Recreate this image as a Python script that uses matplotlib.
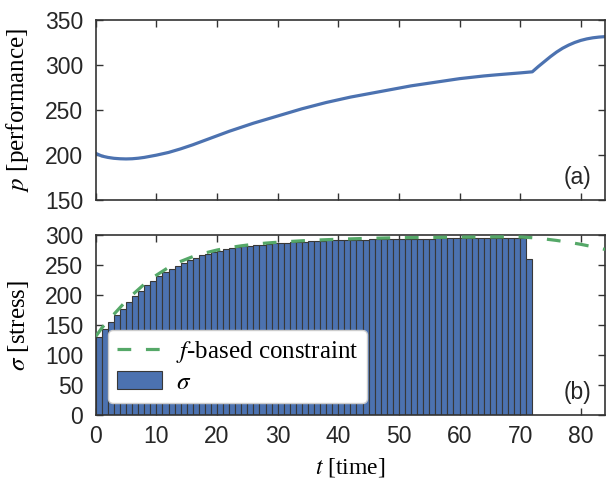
import matplotlib
matplotlib.use('Agg')
import matplotlib.pyplot as plt
import numpy as np

# --- data ---
# (a) performance curve
t_perf = [0, 1, 2, 3, 4, 5, 6, 7, 8, 10, 12, 14, 16, 18, 20, 22, 24, 26, 28, 30,
          32, 34, 36, 38, 40, 42, 44, 46, 48, 50, 52, 54, 56, 58, 60, 62, 64, 66,
          68, 70, 72, 73, 74, 75, 76, 77, 78, 79, 80, 81, 82, 83, 84]
perf = [202, 199, 197.5, 196.5, 196, 195.8, 196, 196.6, 197.5, 200, 203, 207,
        211.5, 216.5, 221.5, 226.5, 231, 235.5, 239.5, 243.5, 247.5, 251.5, 255,
        258.5, 261.5, 264.5, 267, 269.5, 272, 274.5, 277, 279, 281, 283, 285,
        286.5, 288, 289.2, 290.3, 291.4, 292.6, 298.5, 304, 309.5, 314.5, 318.8,
        322.3, 325.2, 327.5, 329.2, 330.4, 331.2, 331.7]

# (b) stress per time step (bars of width 1 starting at t = 0..71)
stress = [130, 143, 155, 166, 177, 188, 198, 207, 216, 224, 231, 238, 243, 249,
          254, 259, 262, 266, 269, 272, 274, 276, 278, 280, 281, 282, 283, 284,
          285, 286, 287, 287.5, 288, 288.5, 289, 289.5, 290, 290.5, 291, 291,
          291.5, 292, 292, 292.5, 292.5, 293, 293, 293, 293.5, 293.5, 293.5, 294,
          294, 294, 294, 294, 294.5, 294.5, 294.5, 294.5, 294.5, 294.5, 295, 295,
          295, 295, 295, 295, 295, 295, 295, 260]

# f-based constraint
t_con = [0, 1, 2, 3, 4, 5, 6, 7, 8, 9, 10, 12, 14, 16, 18, 20, 22, 24, 26, 28,
         30, 35, 40, 45, 50, 55, 60, 65, 68, 70, 72, 74, 76, 78, 80, 82, 84]
con = [131, 145, 157, 168, 179, 190, 200, 209, 218, 226, 233, 246, 256, 264, 270,
       275, 279, 282, 284.5, 286.5, 288, 291, 293, 294.5, 295.5, 296, 296.5,
       296.8, 297, 296.8, 295.5, 293.5, 291, 288, 284.5, 280.5, 276]

xticks = [0, 10, 20, 30, 40, 50, 60, 70, 80]

blue = '#4C72B0'
green = '#55A868'
dark = '#333333'

plt.rcParams['mathtext.fontset'] = 'stix'
plt.rcParams['font.family'] = 'Liberation Sans'

fig = plt.figure(figsize=(6.06, 4.87), dpi=100)
ax1 = fig.add_axes([0.158, 0.589, 0.8404, 0.3696])
ax2 = fig.add_axes([0.158, 0.1478, 0.8404, 0.3696])

serif = {'family': 'Liberation Serif', 'size': 18}

for ax in (ax1, ax2):
    ax.set_xlim(0, 84)
    ax.set_xticks(xticks)
    ax.tick_params(direction='in', top=True, right=True, length=5, width=1,
                   color=dark, labelsize=16.5, labelcolor='#262626', pad=9)
    ax.tick_params(axis='x', pad=7)
    for s in ax.spines.values():
        s.set_color(dark)
        s.set_linewidth(1.2)

# top panel
ax1.plot(t_perf, perf, color=blue, lw=2.3, solid_capstyle='round')
ax1.set_ylim(150, 350)
ax1.set_yticks([150, 200, 250, 300, 350])
ax1.tick_params(axis='x', labelbottom=False)
ax1.set_ylabel(r'$p$ [performance]', fontdict=serif)
ax1.yaxis.set_label_coords(-0.128, 0.5)
ax1.text(0.973, 0.06, '(a)', transform=ax1.transAxes, ha='right', va='bottom',
         fontsize=16.5, color='#262626')

# bottom panel
t_bar = np.arange(len(stress))
ax2.bar(t_bar, stress, width=1, align='edge', color=blue, edgecolor='#383838',
        linewidth=0.8, label=r'$\sigma$', zorder=2)
ax2.plot(t_con, con, color=green, lw=2.3, dashes=(4.3, 4.6),
         label=r'$f$-based constraint', zorder=3)
ax2.set_ylim(0, 300)
ax2.set_yticks([0, 50, 100, 150, 200, 250, 300])
ax2.set_ylabel(r'$\sigma$ [stress]', fontdict=serif)
ax2.yaxis.set_label_coords(-0.128, 0.5)
ax2.set_xlabel(r'$t$ [time]', fontdict={'family': 'Liberation Serif', 'size': 17},
               labelpad=6)
ax2.text(0.973, 0.06, '(b)', transform=ax2.transAxes, ha='right', va='bottom',
         fontsize=16.5, color='#262626')

leg = ax2.legend(loc='lower left', prop={'family': 'Liberation Serif', 'size': 18},
                 frameon=True, fancybox=True, framealpha=1, edgecolor='#cccccc',
                 handlelength=1.8, handletextpad=0.55, borderaxespad=0.5,
                 labelspacing=0.25, borderpad=0.35)
leg.set_zorder(5)

fig.savefig('out.png', dpi=100)
